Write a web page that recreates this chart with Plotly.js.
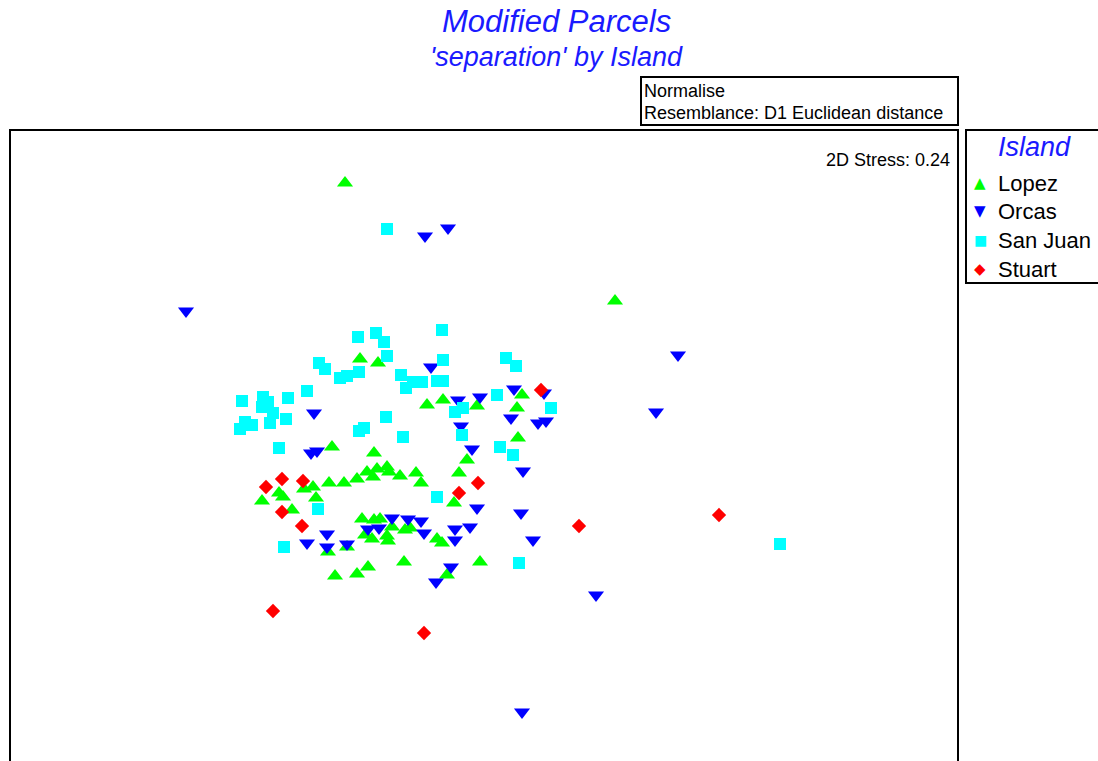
<!DOCTYPE html>
<html><head><meta charset="utf-8">
<script src="https://cdn.plot.ly/plotly-3.0.1.min.js"></script>
<style>html,body{margin:0;padding:0;background:#fff}</style>
</head><body><div id="chart" style="width:1098px;height:761px"></div>
<script>
// MDS coordinates (arbitrary units, y grows downward)
const lopezX = [345,615,360,378,332,374,262,279,283,292,304,313,316,329,344,357,367,373,377,387,389,400,416,421,427,443,477,522,517,518,467,459,454,362,374,380,365,372,387,388,392,405,410,437,442,328,347,335,357,368,404,480,447];
const lopezY = [183,301,359,363,447,453,501,493,497,510,489,487,498,483,483,479,472,477,469,467,472,476,473,483,405,400,406,395,408,438,460,473,503,519,520,519,535,539,536,541,527,530,528,539,543,552,547,576,574,567,562,562,575];
const orcasX = [186,425,448,678,656,596,522,314,311,317,431,458,480,461,514,544,511,538,546,472,523,327,307,327,347,368,379,392,408,421,424,477,521,455,470,455,533,451,436];
const orcasY = [311,236,228,355,412,595,712,413,453,451,367,400,397,426,389,393,418,423,421,449,471,534,543,547,544,529,528,518,519,521,533,508,513,529,527,540,540,567,582];
const sanJuanX = [387,780,519,284,318,437,358,376,384,387,442,319,325,340,347,359,401,406,413,422,437,443,443,307,242,263,268,262,273,288,286,270,245,252,240,386,359,364,403,279,506,516,497,455,463,551,462,500,513];
const sanJuanY = [229,544,563,547,509,497,337,333,342,356,330,363,369,378,376,372,375,388,382,382,381,381,360,391,401,397,402,407,413,398,419,423,422,425,429,417,431,428,437,448,358,366,395,412,408,408,435,447,455];
const stuartX = [541,579,719,273,424,266,282,303,282,302,478,459];
const stuartY = [390,526,515,611,633,487,479,481,512,526,483,493];
const groups = ["Lopez","Orcas","San Juan","Stuart"];
const groupColors = ['#00ff00', '#0000ff', '#00ffff', '#ff0000'];
const groupGlyphs = ['\u25B2', '\u25BC', '\u25A0', '\u25C6'];
const legendTitle = "Island";
const stressLabel = "2D Stress: 0.24";

const FONT = "Arial, 'Liberation Sans', sans-serif";
const L = 10, R = 958, T = 130, H = 761;
const px = x => (x - L) / (R - L);
const py = y => (H - y) / (H - T);

const symbols = ['triangle-up', 'triangle-down', 'square', 'diamond'];
const sizes = [14, 14, 12, 11];
const xs = [lopezX, orcasX, sanJuanX, stuartX];
const ys = [lopezY, orcasY, sanJuanY, stuartY];

const traces = groups.map((g, i) => ({
  name: g, x: xs[i], y: ys[i], mode: 'markers', type: 'scatter', showlegend: false,
  marker: {symbol: symbols[i], size: sizes[i], color: groupColors[i], line: {width: 0}}
}));

const annotations = [
  {xref: 'paper', yref: 'paper', x: px(556), y: py(22), xanchor: 'center', yanchor: 'middle', showarrow: false,
   text: '<i>Modified Parcels</i>', font: {family: FONT, size: 31, color: '#1a1aff'}},
  {xref: 'paper', yref: 'paper', x: px(556), y: py(57), xanchor: 'center', yanchor: 'middle', showarrow: false,
   text: "<i>'separation' by Island</i>", font: {family: FONT, size: 27, color: '#1a1aff'}},
  {xref: 'paper', yref: 'paper', x: px(642), y: py(91), xanchor: 'left', yanchor: 'middle', showarrow: false,
   text: 'Normalise', font: {family: FONT, size: 18, color: '#000'}},
  {xref: 'paper', yref: 'paper', x: px(642), y: py(113), xanchor: 'left', yanchor: 'middle', showarrow: false,
   text: 'Resemblance: D1 Euclidean distance', font: {family: FONT, size: 18, color: '#000'}},
  {xref: 'paper', yref: 'paper', x: px(952), y: py(160), xanchor: 'right', yanchor: 'middle', showarrow: false,
   text: stressLabel, font: {family: FONT, size: 18, color: '#000'}},
  {xref: 'paper', yref: 'paper', x: px(1034), y: py(147), xanchor: 'center', yanchor: 'middle', showarrow: false,
   text: '<i>' + legendTitle + '</i>', font: {family: FONT, size: 27, color: '#1a1aff'}}
];
const legendRows = [183, 211, 240, 269];
groups.forEach((g, i) => {
  annotations.push({xref: 'paper', yref: 'paper', x: px(980), y: py(legendRows[i]), xanchor: 'center', yanchor: 'middle',
    showarrow: false, text: groupGlyphs[i], font: {family: "'DejaVu Sans', sans-serif", size: i === 2 ? 14 : 15, color: groupColors[i]}});
  annotations.push({xref: 'paper', yref: 'paper', x: px(996), y: py(legendRows[i]), xanchor: 'left', yanchor: 'middle',
    showarrow: false, text: g, font: {family: FONT, size: 22, color: '#000'}});
});

const layout = {
  width: 1098, height: 761,
  margin: {l: L, r: 1098 - R, t: T, b: 0, pad: 0, autoexpand: false},
  paper_bgcolor: '#fff', plot_bgcolor: '#fff',
  font: {family: FONT, color: '#000'},
  xaxis: {range: [L, R], visible: false, showgrid: false, zeroline: false, fixedrange: true},
  yaxis: {range: [H, T], visible: false, showgrid: false, zeroline: false, fixedrange: true},
  showlegend: false,
  shapes: [
    {type: 'rect', xref: 'paper', yref: 'paper', x0: 0, x1: 1, y0: -0.3, y1: 1,
     line: {color: '#000', width: 2}, fillcolor: 'rgba(0,0,0,0)'},
    {type: 'rect', xref: 'paper', yref: 'paper', x0: px(641), x1: px(958), y0: py(125), y1: py(77),
     line: {color: '#000', width: 2}, fillcolor: 'rgba(0,0,0,0)'},
    {type: 'rect', xref: 'paper', yref: 'paper', x0: px(966), x1: px(1120), y0: py(283), y1: py(130),
     line: {color: '#000', width: 2}, fillcolor: 'rgba(0,0,0,0)'}
  ],
  annotations: annotations
};

Plotly.newPlot('chart', traces, layout, {displayModeBar: false, staticPlot: true});
</script></body></html>
